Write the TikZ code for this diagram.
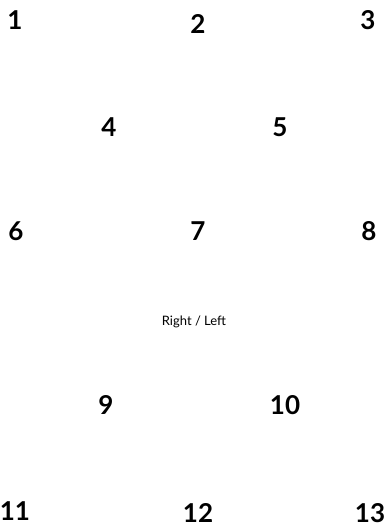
\documentclass[tikz,border=0pt]{standalone}
\usepackage{fontspec}
\setmainfont{Lato}
\begin{document}
\begin{tikzpicture}[x=1pt,y=-1pt,
  num/.style={font=\fontsize{26}{26}\selectfont\bfseries, inner sep=0pt, anchor=center},
  lbl/.style={font=\fontsize{13}{13}\selectfont, inner sep=0pt, anchor=center}]
\useasboundingbox (0,0) rectangle (387,527);
\node[num] (n1) at (15,20) {1};
\node[num] (n2) at (198,24) {2};
\node[num] (n3) at (368,20) {3};
\node[num] (n4) at (109,127) {4};
\node[num] (n5) at (280,127) {5};
\node[num] (n6) at (16,231) {6};
\node[num] (n7) at (198,231) {7};
\node[num] (n8) at (369,231) {8};
\node[lbl] (rl) at (194,322) {Right / Left};
\node[num] (n9) at (106,405) {9};
\node[num] (n10) at (285,405) {10};
\node[num] (n11) at (15,511) {11};
\node[num] (n12) at (198,513) {12};
\node[num] (n13) at (370,513) {13};
\end{tikzpicture}
\end{document}
